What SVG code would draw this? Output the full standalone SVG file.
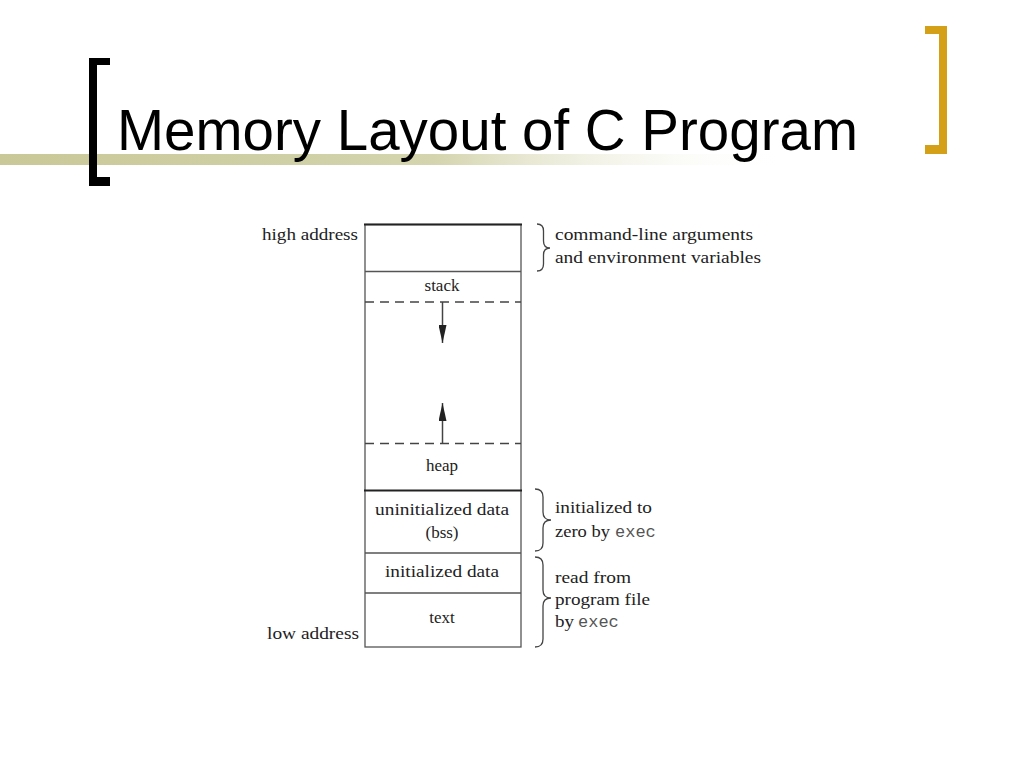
<svg xmlns="http://www.w3.org/2000/svg" width="1024" height="768" viewBox="0 0 1024 768">
<defs>
<linearGradient id="bar" x1="0" y1="0" x2="1" y2="0">
<stop offset="0" stop-color="#c8c898"/>
<stop offset="0.55" stop-color="#d4d4ae"/>
<stop offset="1" stop-color="#ffffff" stop-opacity="0"/>
</linearGradient>
<marker id="ah" viewBox="0 0 18 8" refX="18" refY="4" markerWidth="18" markerHeight="8" markerUnits="userSpaceOnUse" orient="auto">
<path d="M0,0 L18,4 L0,8 Z" fill="#222"/>
</marker>
<style>
.lbl{font-family:"Liberation Serif","Times New Roman",serif;font-size:17px;fill:#222}
.mono{font-family:"Liberation Mono","Courier New",monospace;font-size:17px;fill:#555}
.ln{stroke:#555;stroke-width:1.3;fill:none}
.dash{stroke:#444;stroke-width:1.3;stroke-dasharray:9 6;fill:none}
.thick{stroke:#222;stroke-width:2;fill:none}
.brace{stroke:#444;stroke-width:1.3;fill:none}
.arr{stroke:#444;stroke-width:1.5;fill:none}
</style>
</defs>
<rect width="1024" height="768" fill="#ffffff"/>
<g id="decor">
<rect x="0" y="154" width="790" height="11" fill="url(#bar)"/>
<path d="M110,58 L89,58 L89,186 L110,186 L110,177 L97,177 L97,65 L110,65 Z" fill="#000"/>
<path d="M925,26 L947,26 L947,154 L925,154 L925,145 L939,145 L939,34 L925,34 Z" fill="#D4A017"/>
</g>
<g id="title">
<text x="117" y="150" font-family="Liberation Sans, Arial, sans-serif" font-size="58" fill="#000" textLength="741" lengthAdjust="spacingAndGlyphs">Memory Layout of C Program</text>
</g>
<g id="memory-box">
<rect x="365" y="224.5" width="156" height="422.5" class="ln"/>
<line x1="364" y1="224.5" x2="522" y2="224.5" class="thick"/>
<line x1="365" y1="271.5" x2="521" y2="271.5" class="ln"/>
<line x1="365" y1="302" x2="521" y2="302" class="dash"/>
<line x1="365" y1="443.5" x2="521" y2="443.5" class="dash"/>
<line x1="364" y1="490.5" x2="522" y2="490.5" class="thick"/>
<line x1="365" y1="553" x2="521" y2="553" class="ln"/>
<line x1="365" y1="593" x2="521" y2="593" class="ln"/>
</g>
<g id="node-args"><text class="lbl" x="358" y="240" text-anchor="end" textLength="96" lengthAdjust="spacingAndGlyphs">high address</text></g>
<g id="node-stack"><text class="lbl" x="442" y="291" text-anchor="middle">stack</text></g>
<g id="node-heap"><text class="lbl" x="442" y="471" text-anchor="middle">heap</text></g>
<g id="node-bss">
<text class="lbl" x="442" y="515" text-anchor="middle" textLength="134" lengthAdjust="spacingAndGlyphs">uninitialized data</text>
<text class="lbl" x="442" y="538" text-anchor="middle">(bss)</text>
</g>
<g id="node-data"><text class="lbl" x="442" y="577" text-anchor="middle" textLength="114" lengthAdjust="spacingAndGlyphs">initialized data</text></g>
<g id="node-text">
<text class="lbl" x="442" y="623" text-anchor="middle">text</text>
<text class="lbl" x="359" y="639" text-anchor="end" textLength="92" lengthAdjust="spacingAndGlyphs">low address</text>
</g>
<g id="connectors">
<line x1="442.5" y1="302" x2="442.5" y2="343" class="arr" marker-end="url(#ah)"/>
<line x1="442.5" y1="443.5" x2="442.5" y2="403" class="arr" marker-end="url(#ah)"/>
<path class="brace" d="M537,224 Q543.5,224 543.5,231 L543.5,241 Q543.5,248 550,248 Q543.5,248 543.5,255 L543.5,264 Q543.5,271 537,271"/>
<path class="brace" d="M535,489 Q543,489 543,497 L543,512 Q543,520 551,520 Q543,520 543,528 L543,543 Q543,551 535,551"/>
<path class="brace" d="M535,557 Q543,557 543,565 L543,590 Q543,598 551,598 Q543,598 543,606 L543,639 Q543,647 535,647"/>
</g>
<g id="annotations">
<text class="lbl" x="555" y="240" textLength="198" lengthAdjust="spacingAndGlyphs">command-line arguments</text>
<text class="lbl" x="555" y="263" textLength="206" lengthAdjust="spacingAndGlyphs">and environment variables</text>
<text class="lbl" x="555" y="513" textLength="97" lengthAdjust="spacingAndGlyphs">initialized to</text>
<text class="lbl" x="555" y="537"><tspan textLength="55" lengthAdjust="spacingAndGlyphs">zero by</tspan> <tspan class="mono" x="615">exec</tspan></text>
<text class="lbl" x="555" y="583" textLength="76" lengthAdjust="spacingAndGlyphs">read from</text>
<text class="lbl" x="555" y="605" textLength="95" lengthAdjust="spacingAndGlyphs">program file</text>
<text class="lbl" x="555" y="627"><tspan textLength="19" lengthAdjust="spacingAndGlyphs">by</tspan> <tspan class="mono" x="578">exec</tspan></text>
</g>
</svg>
